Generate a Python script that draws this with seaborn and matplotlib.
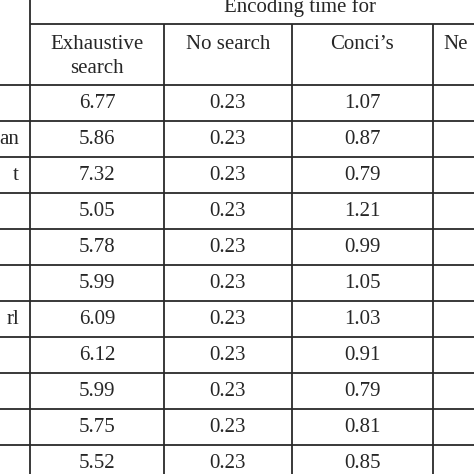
import matplotlib
matplotlib.use("Agg")
import matplotlib.pyplot as plt
import seaborn as sns

sns.set_style("white")
plt.rcParams['font.family'] = ['Liberation Serif', 'DejaVu Serif']

row_labels = ["", "an", "t", "", "", "", "rl", "", "", "", ""]
exhaustive = [6.77, 5.86, 7.32, 5.05, 5.78, 5.99, 6.09, 6.12, 5.99, 5.75, 5.52]
no_search = [0.23] * 11
concis = [1.07, 0.87, 0.79, 1.21, 0.99, 1.05, 1.03, 0.91, 0.79, 0.81, 0.85]
col_headers = ["Exhaustive", "No search", "Conci\u2019s", "Ne"]
sub_header = "search"
group_header = "Encoding time for"

fig = plt.figure(figsize=(4.74, 4.74), dpi=100)
ax = fig.add_axes([0, 0, 1, 1])
ax.set_xlim(0, 474)
ax.set_ylim(474, 0)
ax.axis("off")

lc = "#2a2a2a"
lw = 1.3
fs = 15
col_x = [30, 164, 292, 433]
row_y = [85, 121, 157, 193, 229, 265, 301, 337, 373, 409, 445, 481]

ax.vlines(col_x[0], 0, 474, color=lc, lw=lw)
ax.vlines(col_x[1:], 24, 474, color=lc, lw=lw)
ax.hlines(24, col_x[0], 474, color=lc, lw=lw)
ax.hlines(row_y[:-1], 0, 474, color=lc, lw=lw)

ax.text(300, 7, group_header, ha="center", va="center", fontsize=fs)
centers = [(col_x[0] + col_x[1]) / 2, (col_x[1] + col_x[2]) / 2, (col_x[2] + col_x[3]) / 2]
for cx, h in zip(centers, col_headers[:3]):
    ax.text(cx, 44, h, ha="center", va="center", fontsize=fs)
ax.text(centers[0], 68, sub_header, ha="center", va="center", fontsize=fs)
ax.text(col_x[3] + 10, 44, col_headers[3], ha="left", va="center", fontsize=fs)

for i in range(len(exhaustive)):
    cy = (row_y[i] + row_y[i + 1]) / 2
    ax.text(centers[0], cy, f"{exhaustive[i]:.2f}", ha="center", va="center", fontsize=fs)
    ax.text(centers[1], cy, f"{no_search[i]:.2f}", ha="center", va="center", fontsize=fs)
    ax.text(centers[2], cy, f"{concis[i]:.2f}", ha="center", va="center", fontsize=fs)
    if row_labels[i]:
        ax.text(19, cy, row_labels[i], ha="right", va="center", fontsize=fs)

fig.savefig("out.png", dpi=100)
